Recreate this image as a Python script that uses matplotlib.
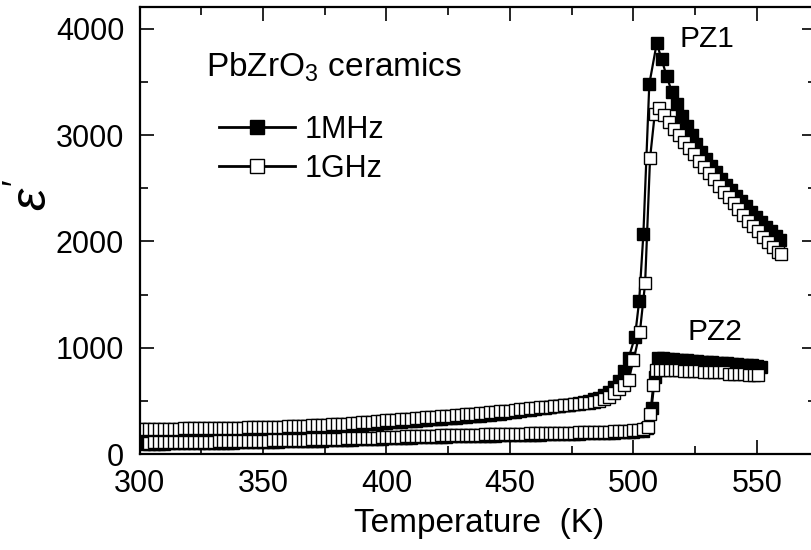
import numpy as np
import matplotlib
matplotlib.use("Agg")
import matplotlib.pyplot as plt
from matplotlib.ticker import MultipleLocator
from matplotlib.lines import Line2D

plt.rcParams['font.family'] = ['Liberation Sans', 'DejaVu Sans']
plt.rcParams['mathtext.fontset'] = 'custom'
plt.rcParams['mathtext.rm'] = 'Liberation Sans'
plt.rcParams['mathtext.it'] = 'Liberation Sans:italic'

# ---------------- data ----------------
# PZ1, 1 MHz (filled squares)
T_pz1_1MHz_low = np.arange(300, 500, 2)
eps_pz1_1MHz_low = [
    213, 214, 214, 215, 215, 216, 216, 217, 217, 218,
    219, 219, 220, 220, 221, 222, 222, 223, 224, 225,
    226, 227, 228, 229, 230, 231, 232, 233, 235, 236,
    238, 239, 241, 243, 245, 247, 249, 251, 254, 256,
    259, 262, 265, 268, 272, 275, 279, 283, 287, 291,
    295, 298, 301, 305, 308, 311, 315, 318, 322, 325,
    329, 332, 336, 339, 343, 346, 350, 354, 358, 362,
    366, 371, 376, 381, 387, 392, 398, 404, 410, 417,
    424, 430, 436, 442, 448, 454, 459, 465, 471, 477,
    490, 500, 513, 530, 552, 585, 630, 690, 780, 900]
T_pz1_1MHz_high = [500.6, 502.3, 504.0, 506.4, 509.4, 511.4, 513.4,
                   515.5, 517.5, 519.5, 521.5, 523.5, 525.5, 527.5, 529.5,
                   531.5, 533.5, 535.5, 537.5, 539.5, 541.5, 543.5, 545.5,
                   547.5, 549.5, 551.5, 553.5, 555.5, 557.5, 559.5]
eps_pz1_1MHz_high = [1104, 1443, 2070, 3482, 3865, 3714, 3557,
                     3410, 3290, 3185, 3090, 3000, 2920, 2845, 2775,
                     2710, 2650, 2590, 2535, 2480, 2430, 2380, 2330,
                     2280, 2230, 2185, 2140, 2095, 2050, 2010]

# PZ1, 1 GHz (open squares)
T_pz1_1GHz_low = np.arange(300, 502, 2)
eps_pz1_1GHz_low = [
    235, 236, 236, 237, 237, 238, 238, 239, 239, 240,
    241, 241, 242, 242, 243, 244, 244, 245, 246, 247,
    248, 249, 250, 251, 252, 253, 254, 255, 257, 258,
    260, 261, 263, 265, 267, 269, 271, 273, 276, 278,
    281, 284, 287, 290, 294, 297, 301, 305, 309, 313,
    317, 320, 323, 327, 330, 333, 337, 340, 344, 347,
    351, 354, 358, 361, 365, 368, 372, 376, 380, 384,
    388, 392, 396, 400, 405, 409, 414, 419, 424, 429,
    434, 438, 442, 446, 450, 454, 458, 462, 466, 471,
    477, 484, 492, 503, 518, 541, 573, 610, 652, 700,
    880]
T_pz1_1GHz_high = [502.6, 504.7, 506.7, 508.6, 510.5, 512.5, 514.5,
                   516.5, 518.5, 520.5, 522.5, 524.5, 526.5, 528.5, 530.5,
                   532.5, 534.5, 536.5, 538.5, 540.5, 542.5, 544.5, 546.5,
                   548.5, 550.5, 552.5, 554.5, 556.5, 558.5, 559.8]
eps_pz1_1GHz_high = [1151, 1606, 2783, 3200, 3260, 3190, 3125,
                     3060, 3000, 2940, 2880, 2820, 2760, 2700, 2640,
                     2585, 2525, 2470, 2415, 2360, 2305, 2250, 2195,
                     2145, 2095, 2045, 1995, 1950, 1905, 1880]

# PZ2, 1 MHz (filled squares)
T_pz2_1MHz_low = np.arange(302, 504, 2)
eps_pz2_1MHz_low = [
    95, 96, 97, 97, 98, 99, 99, 100, 101, 101,
    102, 103, 104, 104, 105, 106, 107, 108, 108, 109,
    110, 111, 112, 113, 114, 115, 116, 117, 118, 119,
    120, 121, 122, 123, 125, 126, 127, 128, 130, 131,
    132, 134, 135, 137, 138, 140, 141, 143, 145, 147,
    149, 150, 152, 153, 155, 156, 158, 159, 160, 162,
    163, 164, 165, 166, 167, 168, 169, 170, 171, 172,
    173, 174, 175, 176, 177, 178, 179, 180, 181, 182,
    183, 184, 185, 186, 187, 188, 189, 190, 191, 193,
    194, 195, 196, 198, 199, 201, 203, 205, 207, 210,
    214]
T_pz2_1MHz_high = [504.0, 505.6, 507.3, 508.7, 509.8, 511.8, 513.8,
                   515.8, 517.8, 519.8, 521.8, 523.8, 525.8, 527.8, 529.8,
                   531.8, 533.8, 535.8, 537.8, 539.8, 541.8, 543.8, 545.8,
                   547.8, 549.8, 551.8]
eps_pz2_1MHz_high = [220, 240, 430, 727, 905, 900, 896,
                     892, 888, 884, 880, 876, 872, 868, 865,
                     862, 859, 856, 853, 850, 846, 842, 838,
                     834, 828, 822]

# PZ2, 1 GHz (open squares)
T_pz2_1GHz_low = np.arange(304, 506, 2)
eps_pz2_1GHz_low = [
    108, 109, 110, 110, 111, 112, 112, 113, 114, 114,
    115, 116, 117, 117, 118, 119, 120, 121, 121, 122,
    123, 124, 125, 126, 127, 128, 129, 130, 131, 132,
    133, 134, 135, 137, 138, 139, 140, 142, 143, 144,
    146, 147, 149, 150, 152, 153, 155, 157, 159, 161,
    162, 164, 165, 167, 168, 170, 171, 172, 174, 175,
    176, 177, 178, 179, 180, 181, 182, 183, 184, 185,
    186, 187, 188, 189, 190, 191, 192, 193, 194, 195,
    196, 197, 198, 199, 200, 201, 202, 203, 205, 206,
    207, 208, 210, 211, 213, 215, 217, 219, 222, 226,
    232]
T_pz2_1GHz_high = [506.0, 506.8, 508.0, 509.3, 510.6, 512.6, 514.6,
                   516.6, 518.6, 520.6, 522.6, 524.6, 526.6, 528.6, 530.6,
                   532.6, 534.6, 536.6, 538.6, 540.6, 542.6, 544.6, 546.6,
                   548.6, 550.6]
eps_pz2_1GHz_high = [257, 375, 650, 790, 795, 792, 790,
                     788, 786, 784, 782, 780, 778, 776, 774,
                     773, 771, 769, 756, 753, 751, 749, 747,
                     746, 744]

series_labels = ['1MHz', '1GHz']
x_ticks = [300, 350, 400, 450, 500, 550]
y_ticks = [0, 1000, 2000, 3000, 4000]

# ---------------- figure ----------------
W, H = 811, 550
fig = plt.figure(figsize=(W / 100, H / 100), dpi=100)
ax_left, ax_right, ax_top, ax_bot = 139.5, 816.0, 7.0, 454.0
ax = fig.add_axes([ax_left / W, 1 - ax_bot / H,
                   (ax_right - ax_left) / W, (ax_bot - ax_top) / H])

def join(t1, v1, t2, v2):
    return np.concatenate([np.asarray(t1, float), np.asarray(t2, float)]), \
           np.concatenate([np.asarray(v1, float), np.asarray(v2, float)])

tA, eA = join(T_pz1_1MHz_low, eps_pz1_1MHz_low, T_pz1_1MHz_high, eps_pz1_1MHz_high)
tB, eB = join(T_pz1_1GHz_low, eps_pz1_1GHz_low, T_pz1_1GHz_high, eps_pz1_1GHz_high)
tC, eC = join(T_pz2_1MHz_low, eps_pz2_1MHz_low, T_pz2_1MHz_high, eps_pz2_1MHz_high)
tD, eD = join(T_pz2_1GHz_low, eps_pz2_1GHz_low, T_pz2_1GHz_high, eps_pz2_1GHz_high)

ms = 8.0
filled = dict(marker='s', color='k', mfc='k', mec='k', ms=ms, mew=1.0, lw=1.6)
opened = dict(marker='s', color='k', mfc='white', mec='k', ms=ms, mew=1.0, lw=1.6)
ax.plot(tA, eA, **filled)
ax.plot(tC, eC, **filled)
ax.plot(tB, eB, **opened)
ax.plot(tD, eD, **opened)

ax.set_xlim(300, 300 + (ax_right - ax_left) / 2.47)
ax.set_ylim(0, 4207)
ax.set_xticks(x_ticks)
ax.set_yticks(y_ticks)
ax.xaxis.set_minor_locator(MultipleLocator(25))
ax.yaxis.set_minor_locator(MultipleLocator(500))
ax.tick_params(which='both', direction='in', top=True, right=True, width=1.2,
               labelsize=22)
ax.tick_params(which='major', length=10, pad=11)
ax.tick_params(which='minor', length=5.5)
for s in ax.spines.values():
    s.set_linewidth(1.6)

ax.set_xlabel('Temperature  (K)', fontsize=24)
ax.xaxis.label.set_va('baseline')
ax.xaxis.set_label_coords((479 - ax_left) / (ax_right - ax_left),
                          (ax_bot - 532) / (ax_bot - ax_top))
ax.set_ylabel(r"$\varepsilon'$", fontsize=36, rotation=90)
ax.yaxis.label.set_va('center')
ax.yaxis.set_label_coords((33 - ax_left) / (ax_right - ax_left),
                          (ax_bot - 195) / (ax_bot - ax_top))

fig.text(206 / W, 1 - 77 / H, r'PbZrO$_\mathregular{3}$ ceramics', fontsize=24,
         va='baseline', ha='left')
fig.text(679 / W, 1 - 47 / H, 'PZ1', fontsize=21.5, va='baseline', ha='left')
fig.text(687 / W, 1 - 340 / H, 'PZ2', fontsize=21.5, va='baseline', ha='left')

handles = [Line2D([], [], marker='s', color='k', mfc='k', mec='k', ms=10, lw=2),
           Line2D([], [], marker='s', color='k', mfc='white', mec='k', ms=10, lw=2, mew=1.0)]
ax.legend(handles, series_labels, loc='upper left',
          bbox_to_anchor=(219 / W, 1 - 115 / H), bbox_transform=fig.transFigure,
          frameon=False, fontsize=22, handlelength=2.5, handletextpad=0.3,
          labelspacing=0.3, borderpad=0, borderaxespad=0)

fig.savefig('out.png', dpi=100)
